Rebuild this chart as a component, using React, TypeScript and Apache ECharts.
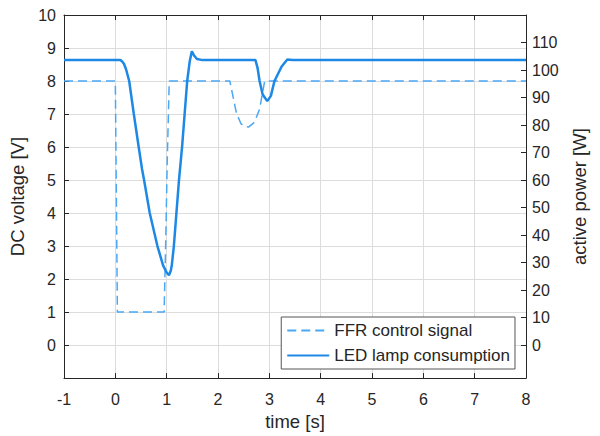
import React, { useEffect, useRef } from "react";
import * as echarts from "echarts";

// time [s] and FFR control signal [V] (left axis)
const ffrTime = [-1, 0.0, 0.04, 0.95, 0.98, 1.01, 1.05, 2.23, 2.29, 2.36, 2.45, 2.52, 2.6, 2.71, 2.81, 2.88, 2.91, 8];
const ffrVolt = [8, 8, 1, 1, 3, 5.5, 8, 8, 7.55, 7.02, 6.7, 6.62, 6.61, 6.75, 7.15, 7.75, 8, 8];

// time [s] and LED lamp consumption [W] (right axis)
const ledTime = [-1, 0.1, 0.13, 0.17, 0.21, 0.27, 0.36, 0.455, 0.52, 0.56, 0.67, 0.82, 0.93, 1.0, 1.045, 1.08, 1.1, 1.14, 1.19, 1.24, 1.3, 1.35, 1.4, 1.45, 1.49, 1.53, 1.59, 1.7, 2.73, 2.77, 2.81, 2.87, 2.96, 3.03, 3.1, 3.24, 3.35, 3.45, 8];
const ledPower = [103.6, 103.6, 103.2, 102.2, 100.2, 96, 84, 72, 64, 60, 48, 36, 29, 26.4, 25.4, 27, 29, 36, 48, 60, 72, 84, 96, 103.2, 106.8, 105.4, 104, 103.6, 103.6, 100.8, 96, 91.1, 88.7, 90.6, 96, 101.3, 103.8, 103.6, 103.6];

const xTicks = { min: -1, max: 8, interval: 1 };
const leftTicks = { min: -1, max: 10, interval: 1 };
const rightRange = { min: -12, max: 120 };
const rightTickValues = [0, 10, 20, 30, 40, 50, 60, 70, 80, 90, 100, 110];

const seriesNames = ["FFR control signal", "LED lamp consumption"];

export default function App() {
  const ref = useRef<HTMLDivElement>(null);
  useEffect(() => {
    document.body.style.margin = "0";
    if (!ref.current) return;
    const chart = echarts.init(ref.current, undefined, { renderer: "svg" });
    const font = "'Liberation Sans', Arial, sans-serif";
    const txt = "#262626";
    const axisLine = { show: true, onZero: false, lineStyle: { color: "#262626", width: 1 } };
    const tick = { show: true, inside: true, length: 5, lineStyle: { color: "#262626" } };
    chart.setOption({
      animation: false,
      textStyle: { fontFamily: font },
      grid: { left: 64, right: 74, top: 15, bottom: 55 },
      legend: {
        orient: "vertical",
        right: 85,
        bottom: 67,
        backgroundColor: "#fff",
        borderColor: "#555",
        borderWidth: 1,
        borderRadius: 0,
        padding: [5, 5, 5, 5],
        itemWidth: 42,
        itemHeight: 14,
        itemGap: 8,
        itemStyle: { opacity: 0 },
        textStyle: { fontSize: 17, color: txt, fontFamily: font },
        data: seriesNames,
      },
      xAxis: [
        {
          type: "value",
          position: "bottom",
          ...xTicks,
          name: "time [s]",
          nameLocation: "middle",
          nameGap: 32,
          nameTextStyle: { fontSize: 18.5, color: txt },
          axisLine,
          axisTick: tick,
          axisLabel: { fontSize: 16, color: txt, margin: 13 },
          splitLine: { show: true, lineStyle: { color: "#dcdcdc", width: 1 } },
        },
        {
          type: "value",
          position: "top",
          ...xTicks,
          axisLine,
          axisTick: tick,
          axisLabel: { show: false },
          splitLine: { show: false },
        },
      ],
      yAxis: [
        {
          type: "value",
          position: "left",
          ...leftTicks,
          name: "DC voltage [V]",
          nameLocation: "middle",
          nameGap: 30,
          nameTextStyle: { fontSize: 18.5, color: txt },
          axisLine,
          axisTick: tick,
          axisLabel: {
            fontSize: 16,
            color: txt,
            margin: 8,
            formatter: (v: number) => (v === -1 ? "" : String(v)),
          },
          splitLine: { show: true, lineStyle: { color: "#dcdcdc", width: 1 } },
        },
        {
          type: "value",
          position: "right",
          ...rightRange,
          name: "active power [W]",
          nameLocation: "middle",
          nameGap: 44,
          nameRotate: 90,
          nameTextStyle: { fontSize: 18.5, color: txt },
          axisLine,
          axisTick: { ...tick, customValues: rightTickValues },
          axisLabel: { fontSize: 16, color: txt, margin: 6, customValues: rightTickValues },
          splitLine: { show: false },
        },
      ],
      series: [
        {
          name: seriesNames[0],
          type: "line",
          xAxisIndex: 0,
          yAxisIndex: 0,
          symbol: "none",
          data: ffrTime.map((t, i) => [t, ffrVolt[i]]),
          lineStyle: { color: "#4aa8f5", width: 1.5, type: [9, 5] },
          itemStyle: { color: "#4aa8f5" },
        },
        {
          name: seriesNames[1],
          type: "line",
          xAxisIndex: 0,
          yAxisIndex: 1,
          symbol: "none",
          data: ledTime.map((t, i) => [t, ledPower[i]]),
          lineStyle: { color: "#1e88e5", width: 2.5 },
          itemStyle: { color: "#1e88e5" },
        },
      ],
    });
    return () => chart.dispose();
  }, []);
  return <div ref={ref} style={{ width: 600, height: 436 }} />;
}
